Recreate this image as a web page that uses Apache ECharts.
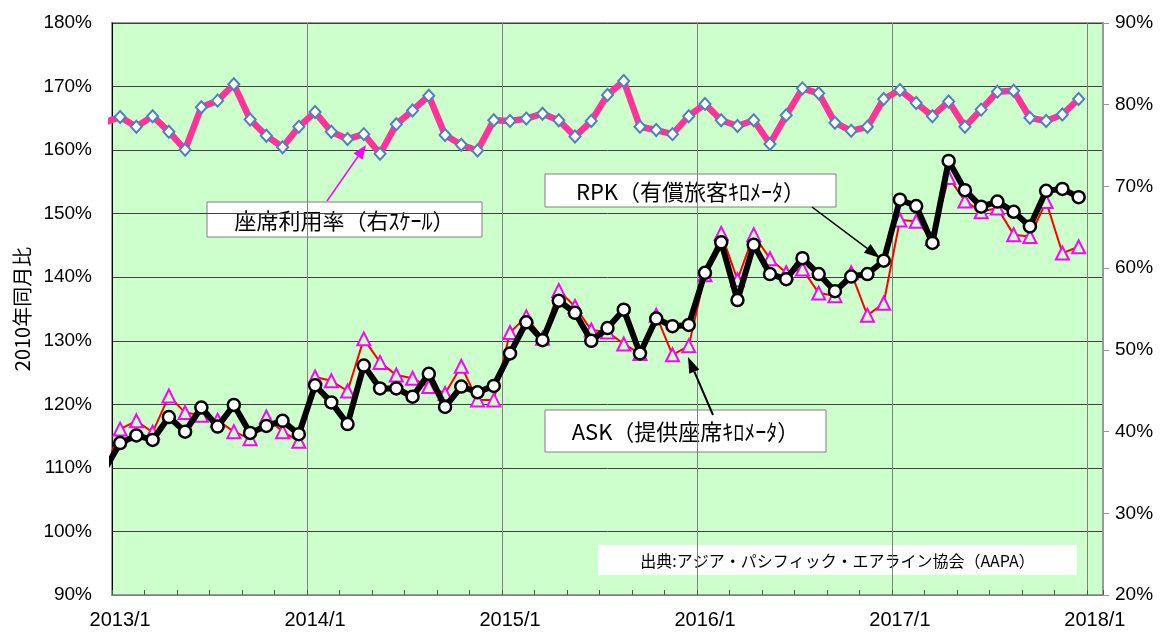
<!DOCTYPE html>
<html>
<head>
<meta charset="utf-8">
<script src="https://cdn.jsdelivr.net/npm/echarts@6/dist/echarts.min.js"></script>
<style>
  html, body { margin: 0; padding: 0; background: #fff; }
  #chart { width: 1161px; height: 633px; }
</style>
</head>
<body>
<div id="chart"></div>
<script>
// x labels: one per month, 2013/1 .. 2018/1 (2018/1 has no data)
const monthLabels = [];
for (let y = 2013; y <= 2018; y++) {
  for (let m = 1; m <= 12; m++) {
    if (y === 2018 && m > 1) break;
    monthLabels.push(y + '/' + m);
  }
}

// values 2012/12 .. 2017/12 (first one sits just left of the plot and is clipped)
const loadFactor = [
  77.8,
  78.5, 77.3, 78.6, 76.7, 74.5, 79.7, 80.5, 82.5, 78.2, 76.2, 74.8, 77.3,
  79.1, 76.7, 75.8, 76.4, 74.0, 77.6, 79.3, 81.1, 76.3, 75.1, 74.4, 78.1,
  78.0, 78.3, 78.9, 78.1, 76.1, 78.0, 81.2, 82.9, 77.3, 76.9, 76.4, 78.6,
  80.1, 78.1, 77.4, 78.1, 75.2, 78.7, 82.0, 81.4, 77.8, 76.8, 77.3, 80.7,
  81.8, 80.2, 78.6, 80.4, 77.3, 79.4, 81.6, 81.7, 78.4, 78.0, 78.8, 80.7
];
const rpk = [
  109.5,
  113.9, 115.1, 114.4, 118.0, 115.7, 119.5, 116.5, 119.9, 115.5, 116.6, 117.4, 115.3,
  123.0, 120.3, 116.9, 126.1, 122.5, 122.5, 121.2, 124.8, 119.6, 122.8, 121.9, 122.9,
  128.0, 132.9, 130.1, 136.3, 134.4, 130.0, 132.0, 134.9, 128.0, 133.5, 132.3, 132.5,
  140.7, 145.5, 136.4, 145.1, 140.5, 139.7, 143.0, 140.5, 137.8, 140.1, 140.5, 142.6,
  152.2, 151.2, 145.4, 158.3, 153.7, 151.1, 151.9, 150.3, 148.0, 153.6, 153.9, 152.6
];
const ask = [
  109.0,
  116.1, 117.4, 115.6, 121.3, 118.7, 118.3, 117.5, 115.7, 114.6, 118.0, 115.7, 114.2,
  124.3, 123.7, 122.1, 130.3, 126.6, 124.6, 124.1, 122.8, 121.7, 126.0, 120.7, 120.7,
  131.3, 133.8, 130.4, 137.9, 135.4, 131.7, 131.4, 129.5, 128.0, 134.0, 127.8, 129.2,
  140.4, 146.9, 139.6, 146.7, 142.9, 140.7, 141.3, 137.5, 137.1, 140.7, 134.0, 135.9,
  149.0, 148.8, 146.1, 155.7, 152.0, 150.3, 150.9, 146.7, 146.4, 151.9, 143.8, 144.8
];

const JA = '"Noto Sans CJK JP", sans-serif';
const NUM = '"Liberation Sans", Arial, sans-serif';
const BG = '#ccffcc';

// month i (0 = 2012/12) is drawn at the middle of its month slot
const toXY = arr => arr.map((v, i) => [i - 0.5, v]);

function arrow(x1, y1, x2, y2, color, w, len, wid) {
  const a = Math.atan2(y2 - y1, x2 - x1);
  const bx = x2 - len * Math.cos(a), by = y2 - len * Math.sin(a);
  const px = -Math.sin(a) * wid / 2, py = Math.cos(a) * wid / 2;
  return [
    { type: 'line', z: 100, shape: { x1: x1, y1: y1, x2: bx, y2: by }, style: { stroke: color, lineWidth: w } },
    { type: 'polygon', z: 100, shape: { points: [[x2, y2], [bx + px, by + py], [bx - px, by - py]] }, style: { fill: color } }
  ];
}

function box(x, y, w, h, text, size, border) {
  return {
    type: 'group', z: 100,
    children: [
      { type: 'rect', shape: { x: x, y: y, width: w, height: h },
        style: { fill: '#fff', stroke: border ? '#808080' : null, lineWidth: 1 } },
      { type: 'text', x: x + w / 2, y: y + h / 2 + 1,
        style: { text: text, fontSize: size, fontFamily: JA, fill: '#000', align: 'center', verticalAlign: 'middle' } }
    ]
  };
}

const chart = echarts.init(document.getElementById('chart'));

chart.setOption({
  animation: false,
  backgroundColor: '#fff',
  grid: {
    left: 112, right: 58, top: 23, bottom: 38,
    show: true, backgroundColor: BG, borderColor: '#999', borderWidth: 2
  },
  xAxis: [
    {
      type: 'value', min: 0, max: 61, interval: 12, position: 'bottom',
      axisLine: { show: true, onZero: false, lineStyle: { color: '#808080' } },
      axisTick: { show: true, inside: true, length: 5, lineStyle: { color: '#555' } },
      minorTick: { show: true, splitNumber: 6, length: 5, lineStyle: { color: '#555' } },
      axisLabel: { show: false },
      splitLine: { show: true, lineStyle: { color: '#808080', width: 1 } }
    },
    {
      type: 'category', data: monthLabels, boundaryGap: true, position: 'bottom',
      axisLine: { show: false }, axisTick: { show: false }, splitLine: { show: false },
      axisLabel: {
        interval: (i) => i % 12 === 0,
        margin: 15, fontSize: 20, fontFamily: NUM, color: '#000'
      }
    }
  ],
  yAxis: [
    {
      type: 'value', min: 90, max: 180, interval: 10, position: 'left',
      name: '2010年同月比', nameLocation: 'middle', nameGap: 72,
      nameTextStyle: { fontSize: 20, fontFamily: JA, color: '#000' },
      axisLine: { show: true, lineStyle: { color: '#000' } },
      axisTick: { show: false },
      axisLabel: { formatter: '{value}%', margin: 20, fontSize: 19, fontFamily: NUM, color: '#000' },
      splitLine: { show: true, lineStyle: { color: '#404040', width: 1 } }
    },
    {
      type: 'value', min: 20, max: 90, interval: 10, position: 'right',
      axisLine: { show: true, lineStyle: { color: '#999', width: 2 } },
      axisTick: { show: true, length: 6, lineStyle: { color: '#999' } },
      axisLabel: { formatter: '{value}%', margin: 12, fontSize: 19, fontFamily: NUM, color: '#000' },
      splitLine: { show: false }
    }
  ],
  series: [
    {
      name: '座席利用率', type: 'line', xAxisIndex: 0, yAxisIndex: 1,
      data: toXY(loadFactor), clip: true, z: 3,
      symbol: 'diamond', symbolSize: [11, 12],
      lineStyle: { color: '#ff3399', width: 6.5 },
      itemStyle: { color: '#fff', borderColor: '#4f81bd', borderWidth: 2 }
    },
    {
      name: 'ASK', type: 'line', xAxisIndex: 0, yAxisIndex: 0,
      data: toXY(ask), clip: true, z: 4,
      symbol: 'triangle', symbolSize: 13,
      lineStyle: { color: '#ff0000', width: 2 },
      itemStyle: { color: BG, borderColor: '#ff00ff', borderWidth: 2 }
    },
    {
      name: 'RPK', type: 'line', xAxisIndex: 0, yAxisIndex: 0,
      data: toXY(rpk), clip: true, z: 5,
      symbol: 'circle', symbolSize: 12,
      lineStyle: { color: '#000', width: 6 },
      itemStyle: { color: '#fff', borderColor: '#000', borderWidth: 2.5 }
    }
  ],
  graphic: [
    ...arrow(327, 201, 366, 145, '#ff00ff', 1.5, 14, 11),
    ...arrow(812, 207, 880, 258, '#000', 1.5, 16, 11),
    ...arrow(713, 415, 688, 357, '#000', 2, 16, 11),
    box(207, 202, 275, 35, '座席利用率（右ｽｹｰﾙ）', 22, true),
    box(545, 174, 291, 33, 'RPK（有償旅客ｷﾛﾒｰﾀ）', 22, true),
    box(545, 410, 281, 42, 'ASK（提供座席ｷﾛﾒｰﾀ）', 22, true),
    box(598, 545, 479, 30, '出典:アジア・パシフィック・エアライン協会（AAPA）', 16, false)
  ]
});
</script>
</body>
</html>
